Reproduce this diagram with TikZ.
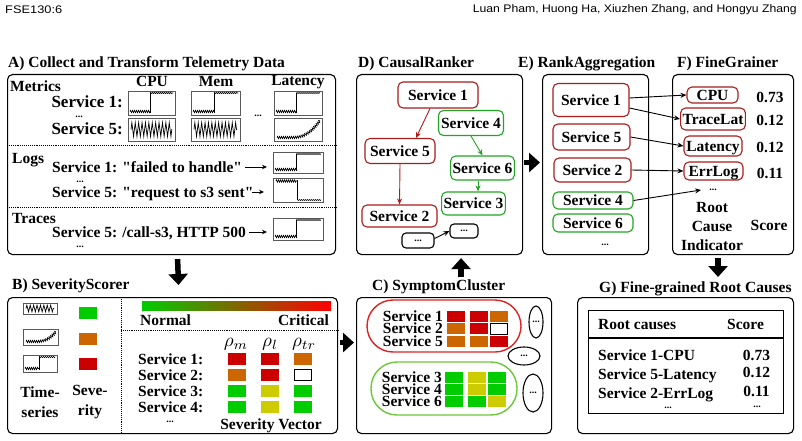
\documentclass[tikz,border=0pt]{standalone}
\usepackage{fontspec}
\setmainfont{Liberation Serif}
\newfontfamily\headfont{Liberation Sans}
\usetikzlibrary{arrows.meta, shapes.geometric, decorations.pathmorphing, calc}
\definecolor{sevgreen}{HTML}{00CC00}
\definecolor{sevorange}{HTML}{CC6600}
\definecolor{sevred}{HTML}{CC0000}
\definecolor{sevyellow}{HTML}{CCCC00}
\definecolor{barred}{HTML}{FF0000}
\definecolor{rootred}{HTML}{A81C1C}
\definecolor{rootgreen}{HTML}{22A522}
\definecolor{clusred}{HTML}{DD2222}
\definecolor{clusgreen}{HTML}{6CC63A}
\newcommand{\lbl}{\fontsize{15.5}{16}\selectfont\bfseries}
\newcommand{\biglbl}{\fontsize{17}{18}\selectfont\bfseries}
\newcommand{\dotlbl}{\fontsize{10}{10}\selectfont\bfseries}
\newcommand{\qq}{\textquotedbl}
\newcommand{\rhosym}[1]{\scalebox{1.9}{$\rho_{#1}$}}

% sparkline thumbnails
\tikzset{
  sparkframe/.style={draw=black!65, line width=0.9pt, inner sep=0pt, anchor=north west},
  sparkline/.style={line width=0.6pt},
  spark/.style={sparkline, decorate, decoration={zigzag, amplitude=1.2pt, segment length=2pt}},
  pics/stepup/.style 2 args={code={
    \node[sparkframe, minimum width=#1pt, minimum height=#2pt] (-box) at (0,0) {};
    \draw[spark] (2,#2-3.5) -- (0.47*#1,#2-3.5);
    \draw[sparkline] (0.47*#1,#2-2) -- (0.47*#1,2);
    \draw[spark, decoration={amplitude=0.6pt}] (0.47*#1,2) -- (#1-2,2);
  }},
  pics/stepdown/.style 2 args={code={
    \node[sparkframe, minimum width=#1pt, minimum height=#2pt] (-box) at (0,0) {};
    \draw[spark] (3,3) -- (0.48*#1,3);
    \draw[sparkline] (0.48*#1,2) -- (0.48*#1,#2-2);
    \draw[spark, decoration={amplitude=0.4pt}] (0.48*#1,#2-2) -- (#1-2,#2-2);
  }},
  pics/flat/.style 2 args={code={
    \node[sparkframe, minimum width=#1pt, minimum height=#2pt] (-box) at (0,0) {};
    \draw[spark, line width=0.7pt, decoration={amplitude=0.3*#2pt, segment length=3.4pt}] (3,0.5*#2) -- (#1-3,0.5*#2);
  }},
  pics/rising/.style 2 args={code={
    \node[sparkframe, minimum width=#1pt, minimum height=#2pt] (-box) at (0,0) {};
    \draw[spark] (3,#2-3.5) -- (0.4*#1,#2-3.5)
      .. controls (0.65*#1,#2-3.5) and (0.8*#1,0.55*#2) .. (#1-2,2.5);
  }}
}

\begin{document}
\begin{tikzpicture}[
  x=1pt, y=-1pt,
  lbl/.style={font=\lbl, inner sep=0pt, text height=10.4pt, text depth=0pt},
  biglbl/.style={font=\biglbl, inner sep=0pt, text height=11.4pt, text depth=0pt},
  mlbl/.style={font=\fontsize{15.5}{#1}\selectfont\bfseries, inner sep=0pt, align=center},
  dots/.style={font=\dotlbl, inner sep=0pt},
  title/.style={font=\lbl, inner sep=0pt, anchor=base west},
  rho/.style={font=\normalsize, inner sep=0pt},
  panel/.style={draw, line width=1.1pt, rounded corners=5pt, inner sep=0pt, anchor=north west},
  sep/.style={densely dotted, line width=0.9pt},
  svc/.style={lbl, draw, rounded corners=5pt, line width=1.1pt, inner xsep=2pt},
  redsvc/.style={svc, draw=rootred},
  greensvc/.style={svc, draw=rootgreen},
  sq/.style={inner sep=0pt, minimum width=18pt, minimum height=12pt},
  sqR/.style={sq, fill=sevred},
  sqO/.style={sq, fill=sevorange},
  sqG/.style={sq, fill=sevgreen},
  sqY/.style={sq, fill=sevyellow},
  sqW/.style={sq, draw, fill=white, line width=0.8pt, minimum width=17pt, minimum height=11pt},
  cluster/.style={draw=#1, line width=1.4pt, rounded corners=26pt, inner sep=0pt},
  more/.style={draw, ellipse, line width=1.1pt, inner sep=0pt, font=\dotlbl},
  bigarr/.style={-{Triangle[length=11pt, width=19pt]}, line width=5.5pt},
  arr/.style={-{Stealth[length=6pt, width=5pt]}, line width=0.9pt},
  txtarr/.style={-{Stealth[length=5pt, width=4.5pt]}, line width=0.9pt}
]
\useasboundingbox (0,0) rectangle (802,441);

% running head
\node[anchor=west, inner sep=0pt] (runhead) at (5,10)
  {\resizebox{57pt}{\height}{\headfont\fontsize{11}{12}\selectfont FSE130:6}};
\node[anchor=east, inner sep=0pt] (authors) at (797,10)
  {\resizebox{324pt}{\height}{\headfont\fontsize{11}{12}\selectfont Luan Pham, Huong Ha, Xiuzhen Zhang, and Hongyu Zhang}};

% panels
\node[panel, minimum width=328pt, minimum height=180pt] (boxA) at (7,74) {};
\node[panel, minimum width=330pt, minimum height=136pt] (boxB) at (7,297) {};
\node[panel, minimum width=195pt, minimum height=136pt] (boxC) at (356,297) {};
\node[panel, minimum width=166pt, minimum height=180pt] (boxD) at (356,74) {};
\node[panel, minimum width=106pt, minimum height=180pt] (boxE) at (542,74) {};
\node[panel, minimum width=121pt, minimum height=180pt] (boxF) at (672,74) {};
\node[panel, minimum width=216pt, minimum height=136pt] (boxG) at (577,297) {};

\node[title] (titleA) at (8,68) {A) Collect and Transform Telemetry Data};
\node[title] (titleB) at (12,289) {B) SeverityScorer};
\node[title] (titleC) at (372,290) {C) SymptomCluster};
\node[title] (titleD) at (358,68) {D) CausalRanker};
\node[title] (titleE) at (518,68) {E) RankAggregation};
\node[title] (titleF) at (677,68) {F) FineGrainer};
\node[title] (titleG) at (599,292) {G) Fine-grained Root Causes};

% A) telemetry
\node[lbl, anchor=west] (metrics) at (10,86) {Metrics};
\node[lbl] (cpu) at (152,81) {CPU};
\node[lbl] (mem) at (216,81) {Mem};
\node[lbl] (lat) at (298,80) {Latency};
\node[biglbl, anchor=east] (m1) at (123,102) {Service 1:};
\node[dots] (mdots) at (79,117) {...};
\node[biglbl, anchor=east] (m5) at (123,129) {Service 5:};
\pic (cpu1) at (128,91) {stepup={47}{24}};
\pic (mem1) at (191,91) {stepup={49}{24}};
\pic (lat1) at (274,91) {stepup={48}{24}};
\pic (cpu5) at (128,118) {flat={47}{23}};
\pic (mem5) at (191,118) {flat={49}{23}};
\pic (lat5) at (274,118) {rising={48}{23}};
\node[dots] (mcols) at (258,116) {...};
\draw[sep] (boxA.west |- 0,145) -- (boxA.east |- 0,145);

\node[lbl, anchor=west] (logs) at (12,158) {Logs};
\node[lbl, anchor=west] (log1) at (52,167) {Service 1: \qq failed to handle\qq};
\node[dots] (ldots) at (80,182) {...};
\node[lbl, anchor=west] (log5) at (52,192) {Service 5: \qq request to s3 sent\qq};
\pic (logbox1) at (273,152) {stepup={50}{21}};
\pic (logbox5) at (273,178) {stepdown={50}{24}};
\draw[txtarr, shorten <=3pt, shorten >=6pt] (log1.east) -- (log1.east -| logbox1-box.west);
\draw[txtarr, shorten <=-2pt, shorten >=9pt] (log5.east) -- (log5.east -| logbox5-box.west);
\draw[sep] (boxA.west |- 0,207) -- (boxA.east |- 0,207);

\node[lbl, anchor=west] (traces) at (12,218) {Traces};
\node[lbl, anchor=west] (trace5) at (52,232) {Service 5: /call-s3, HTTP 500};
\pic (tracebox) at (273,218) {stepup={50}{22}};
\draw[txtarr, shorten <=3pt, shorten >=6pt] (trace5.east) -- (trace5.east -| tracebox-box.west);
\node[dots] (tdots) at (80,247) {...};

% B) severity scorer
\pic (legflat) at (23,303) {flat={34}{11}};
\pic (legrise) at (23,329) {rising={35}{16}};
\pic (legstep) at (23,355) {stepup={34}{17}};
\node[sqG] (leggreen) at (88,312.5) {};
\node[sqO] (legorange) at (88,338.5) {};
\node[sqR] (legred) at (88,364) {};
\node[mlbl=20pt] (tslabel) at (40,402) {Time-\\series};
\node[mlbl=20pt] (sevlabel) at (90,402) {Seve-\\rity};
\draw[sep] (121,297) -- (121,433);
\shade[left color=sevgreen, right color=barred] (142,301) rectangle (331,310);
\node[lbl, anchor=west] (normal) at (140,320) {Normal};
\node[lbl, anchor=east] (critical) at (329,320) {Critical};
\draw[sep] (121,330) -- (boxB.east |- 0,330);
\node[rho] (rhom) at (236,344) {\rhosym{m}};
\node[rho] (rhol) at (270,344) {\rhosym{l}};
\node[rho] (rhotr) at (304,344) {\rhosym{tr}};
\foreach \name/\ca/\cb/\cc [count=\i] in {
    Service 1:/sqR/sqR/sqO,
    Service 2:/sqO/sqR/sqW,
    Service 3:/sqG/sqY/sqG,
    Service 4:/sqG/sqY/sqG} {
  \node[lbl, anchor=west] (brow\i) at (138,343+16*\i) {\name};
  \node[\ca] (bsq\i a) at (237,343+16*\i) {};
  \node[\cb] (bsq\i b) at (270,343+16*\i) {};
  \node[\cc] (bsq\i c) at (303,343+16*\i) {};
}
\node[dots] (bdots) at (170,422) {...};
\node[lbl] (sevvec) at (271,424) {Severity Vector};

% C) symptom cluster
\node[cluster=clusred, minimum width=154pt, minimum height=52pt] (redclus) at (444,326) {};
\node[cluster=clusgreen, minimum width=146pt, minimum height=53pt] (greenclus) at (444,388.5) {};
\foreach \name/\ca/\cb/\cc/\y in {
    Service 1/sqR/sqR/sqO/316,
    Service 2/sqO/sqR/sqW/328.5,
    Service 5/sqO/sqO/sqR/341.5} {
  \node[lbl, anchor=east] at (443,\y) {\name};
  \node[\ca, minimum height=11pt] at (456,\y) {};
  \node[\cb, minimum height=11pt] at (479,\y) {};
  \node[\cc, minimum height=11pt] at (499,\y) {};
}
\foreach \name/\ca/\cb/\cc/\y in {
    Service 3/sqG/sqY/sqG/377.5,
    Service 4/sqG/sqY/sqG/389.5,
    Service 6/sqG/sqG/sqY/401.5} {
  \node[lbl, anchor=east] at (442,\y) {\name};
  \node[\ca, minimum height=11pt] at (454,\y) {};
  \node[\cb, minimum height=11pt] at (477,\y) {};
  \node[\cc, minimum height=11pt] at (497,\y) {};
}
\node[more, minimum width=14pt, minimum height=32pt] (moreA) at (536,322) {...};
\node[more, minimum width=32pt, minimum height=18pt] (moreB) at (524,356) {...};
\node[more, minimum width=20pt, minimum height=38pt] (moreC) at (533,393) {...};

% D) causal ranker
\node[redsvc, minimum width=80pt, minimum height=26pt] (d1) at (438,95) {Service 1};
\node[greensvc, minimum width=65pt, minimum height=25pt] (d4) at (471,123) {Service 4};
\node[redsvc, minimum width=70pt, minimum height=25pt] (d5) at (400,151) {Service 5};
\node[greensvc, minimum width=61pt, minimum height=24pt] (d6) at (482.5,168) {Service 6};
\node[greensvc, minimum width=63pt, minimum height=23pt] (d3) at (473.5,203.5) {Service 3};
\node[redsvc, minimum width=75pt, minimum height=22pt] (d2) at (399.5,216) {Service 2};
\node[draw, rounded corners=4pt, line width=1.1pt, minimum width=32pt, minimum height=15pt, font=\dotlbl] (dmoreA) at (418,240.5) {...};
\node[draw, rounded corners=4pt, line width=1.1pt, minimum width=28pt, minimum height=14pt, font=\dotlbl] (dmoreB) at (464,231) {...};
\draw[arr, rootred] ([xshift=-8pt]d1.south) -- ([xshift=16pt]d5.north);
\draw[arr, rootred] (d5.south) -- (d2.north);
\draw[arr, rootgreen] (d4.south) -- (d6.north);
\draw[arr, rootgreen] ([xshift=-4.5pt]d6.south) -- ([xshift=4.5pt]d3.north);
\draw[arr] ([yshift=2pt]dmoreA.east) -- (dmoreB.west);

% E) rank aggregation
\node[redsvc, minimum width=76pt, minimum height=33pt] (e1) at (591,100) {Service 1};
\node[redsvc, minimum width=77pt, minimum height=26pt] (e5) at (591.5,137) {Service 5};
\node[redsvc, minimum width=77pt, minimum height=24pt] (e2) at (592.5,170) {Service 2};
\node[greensvc, minimum width=80pt, minimum height=17pt] (e4) at (593,200.5) {Service 4};
\node[greensvc, minimum width=80pt, minimum height=18pt] (e6) at (593,223) {Service 6};
\node[dots] (edots) at (605,245) {...};

% F) fine grainer
\node[redsvc, minimum width=51pt, minimum height=16pt] (fcpu) at (712.5,95) {CPU};
\node[redsvc, minimum width=64pt, minimum height=22pt] (ftrace) at (713,119) {TraceLat};
\node[redsvc, minimum width=58pt, minimum height=20pt] (flat) at (713,146) {Latency};
\node[redsvc, minimum width=59pt, minimum height=18pt] (ferr) at (713.5,171) {ErrLog};
\node[lbl] (s1) at (770,97) {0.73};
\node[lbl] (s2) at (770,120) {0.12};
\node[lbl] (s3) at (770,147) {0.12};
\node[lbl] (s4) at (770,173) {0.11};
\node[dots] (fdots) at (713,190) {...};
\node[mlbl=19pt] (rci) at (712,226) {Root\\Cause\\Indicator};
\node[lbl] (scorehd) at (769,225) {Score};
\draw[arr] ([yshift=2pt]e1.east) -- (fcpu.west);
\draw[arr] ([yshift=-8pt]e1.east) -- (ftrace.west);
\draw[arr] (e5.east) -- (flat.west);
\draw[arr] (e2.east) -- (ferr.west);
\draw[arr] (e4.east) -- ([xshift=-8pt]fdots.west);

% G) fine-grained root causes
\node[draw, line width=1.1pt, inner sep=0pt, minimum width=195pt, minimum height=103pt, anchor=north west] (table) at (588,310) {};
\draw[line width=1.1pt] (table.west |- 0,338) -- (table.east |- 0,338);
\node[lbl, anchor=west] (rchead) at (598,324) {Root causes};
\node[lbl] (gscore) at (745.5,324) {Score};
\node[lbl, anchor=west] (g1) at (598,355) {Service 1-CPU};
\node[lbl, anchor=west] (g2) at (598,374) {Service 5-Latency};
\node[lbl, anchor=west] (g3) at (598,393) {Service 2-ErrLog};
\node[lbl] (gs1) at (756.5,355) {0.73};
\node[lbl] (gs2) at (756.5,372) {0.12};
\node[lbl] (gs3) at (756.5,391) {0.11};
\node[dots] (gdots1) at (668,408) {...};
\node[dots] (gdots2) at (757,407) {...};

% flow between panels
\draw[bigarr] ([xshift=6pt, yshift=-4pt]boxA.south) -- ([xshift=6pt, yshift=12pt]boxB.north);
\draw[bigarr] ([xshift=2pt, yshift=23pt]boxB.east) -- ([xshift=-2pt, yshift=23pt]boxC.west);
\draw[bigarr] ([xshift=7pt, yshift=20pt]boxC.north) -- ([xshift=7pt, yshift=-3pt]boxC.north |- boxD.south);
\draw[bigarr] ([xshift=1pt, yshift=2pt]boxD.east) -- ([xshift=-2pt, yshift=2pt]boxE.west);
\draw[bigarr] ([xshift=-15pt, yshift=-3pt]boxF.south) -- ([xshift=-15pt, yshift=20pt]boxF.south |- boxG.north);
\end{tikzpicture}
\end{document}
